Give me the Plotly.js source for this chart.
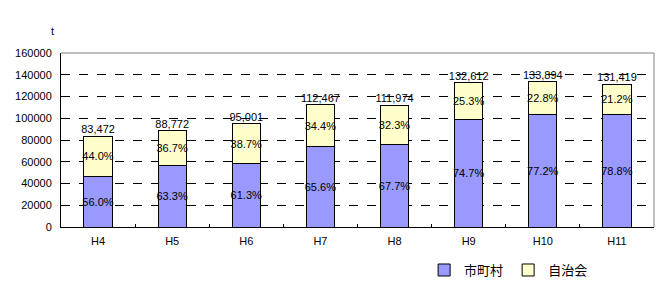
<!DOCTYPE html>
<html><head><meta charset="utf-8">
<script src="https://cdn.plot.ly/plotly-3.0.1.min.js"></script>
<style>body{margin:0;background:#fff}#c{width:670px;height:291px}</style>
</head><body><div id="c"></div>
<script>
const categories = ['H4','H5','H6','H7','H8','H9','H10','H11'];
const totals = [83472, 88772, 95001, 112467, 111974, 132612, 133894, 131419];
const totalLabels = ['83,472','88,772','95,001','112,467','111,974','132,612','133,894','131,419'];
const municipal = [46744, 56193, 58236, 73778, 75806, 99061, 103366, 103558];
const association = [36728, 32579, 36765, 38689, 36168, 33551, 30528, 27861];
const municipalPct = ['56.0%','63.3%','61.3%','65.6%','67.7%','74.7%','77.2%','78.8%'];
const associationPct = ['44.0%','36.7%','38.7%','34.4%','32.3%','25.3%','22.8%','21.2%'];
const yTicks = [0,20000,40000,60000,80000,100000,120000,140000,160000];

const F = '"Liberation Sans Narrow","Liberation Sans", Arial, sans-serif';
const traces = [
 {type:'bar', name:'市町村', x:categories, y:municipal, text:municipalPct,
  textposition:'inside', insidetextanchor:'middle', textangle:0, constraintext:'none',
  textfont:{family:F,size:11,color:'#000'},
  marker:{color:'#9999FF', line:{color:'#000', width:1}}, hoverinfo:'skip'},
 {type:'bar', name:'自治会', x:categories, y:association, text:associationPct,
  textposition:'inside', insidetextanchor:'middle', textangle:0, constraintext:'none',
  textfont:{family:F,size:11,color:'#000'},
  marker:{color:'#FFFFCC', line:{color:'#000', width:1}}, hoverinfo:'skip'},
 {type:'scatter', mode:'text', x:categories, y:totals, text:totalLabels,
  textposition:'top center', textfont:{family:F,size:11,color:'#000'},
  showlegend:false, hoverinfo:'skip', cliponaxis:false}
];
const layout = {
 width:670, height:291, margin:{l:61, r:16, t:53, b:64, autoexpand:false},
 paper_bgcolor:'#fff', plot_bgcolor:'#fff',
 barmode:'stack', bargap:0.62,
 font:{family:F, size:11, color:'#000'},
 xaxis:{type:'category', showline:true, linecolor:'#000', linewidth:1,
   ticks:'inside', tickson:'boundaries', ticklen:3, tickcolor:'#000',
   ticklabelstandoff:4,
   showgrid:false, tickfont:{family:F,size:11}, fixedrange:true, automargin:false},
 yaxis:{range:[0,160000], tickvals:yTicks, ticktext:yTicks.map(String),
   showline:true, linecolor:'#000', linewidth:1, ticks:'',
   ticklabelstandoff:6,
   showgrid:true, gridcolor:'#000', griddash:'dash', gridwidth:1, zeroline:false,
   tickfont:{family:F,size:11}, fixedrange:true, automargin:false},
 shapes:[
  {type:'line', xref:'paper', yref:'paper', x0:0, x1:1, y0:1, y1:1, line:{color:'#808080', width:1}},
  {type:'line', xref:'paper', yref:'paper', x0:1, x1:1, y0:0, y1:1, line:{color:'#808080', width:1}}
 ],
 annotations:[{text:'t', xref:'paper', yref:'paper', x:-0.015, y:1.08, xanchor:'center', yanchor:'bottom', showarrow:false, font:{family:F,size:11}}],
 legend:{orientation:'h', xref:'container', yref:'container', x:0.633, y:0.072, xanchor:'left', yanchor:'middle',
   font:{family:'"Noto Sans CJK JP", sans-serif', size:13}, itemwidth:30, traceorder:'normal'}
};
Plotly.newPlot('c', traces, layout, {displayModeBar:false, staticPlot:true});
</script></body></html>
